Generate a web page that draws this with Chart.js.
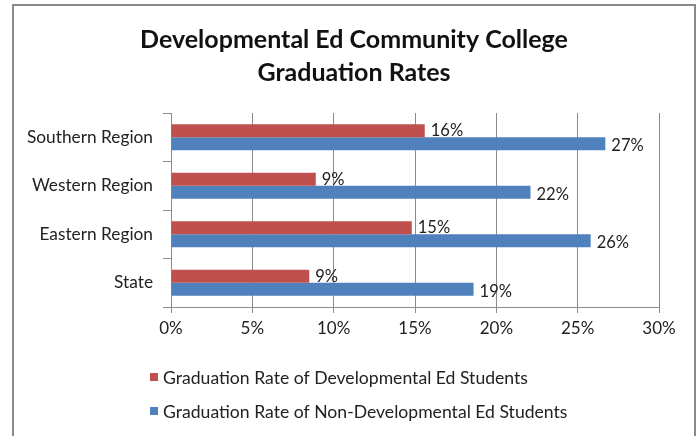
<!DOCTYPE html>
<html>
<head>
<meta charset="utf-8">
<script src="https://cdn.jsdelivr.net/npm/chart.js@4"></script>
<style>
  html, body { margin: 0; padding: 0; background: #fff; }
  #wrap { position: relative; width: 698px; height: 436px; }
  canvas { display: block; }
</style>
</head>
<body>
<div id="wrap"><canvas id="c" width="698" height="436"></canvas></div>
<script>
const titleLines = ['Developmental Ed Community College', 'Graduation Rates'];
const categories = ['Southern Region', 'Western Region', 'Eastern Region', 'State'];
const seriesNames = ['Graduation Rate of Developmental Ed Students', 'Graduation Rate of Non-Developmental Ed Students'];
const devValues = [15.6, 8.9, 14.8, 8.5];
const nonDevValues = [26.7, 22.1, 25.8, 18.6];
const xTicks = [0, 5, 10, 15, 20, 25, 30];

const FONT = 'Lato, "Open Sans", sans-serif';
const RED = '#C0504D';
const BLUE = '#4F81BD';
const GRID = '#8c8c8c';

const decor = {
  id: 'decor',
  beforeDraw(chart) {
    const ctx = chart.ctx;
    ctx.save();
    ctx.fillStyle = '#fff';
    ctx.fillRect(0, 0, chart.width, chart.height);
    ctx.strokeStyle = '#8a8a8a';
    ctx.lineWidth = 2;
    ctx.strokeRect(13, 5, 682, 440);
    ctx.restore();
  },
  afterDraw(chart) {
    const ctx = chart.ctx;
    ctx.save();
    // title
    ctx.fillStyle = '#111';
    ctx.font = 'bold 25px ' + FONT;
    ctx.textAlign = 'center';
    ctx.textBaseline = 'middle';
    ctx.fillText(titleLines[0], 354, 40);
    ctx.fillText(titleLines[1], 354, 73);
    // legend
    ctx.font = '17.6px ' + FONT;
    ctx.textAlign = 'left';
    const ys = [377, 411];
    chart.data.datasets.forEach((ds, i) => {
      ctx.fillStyle = ds.backgroundColor;
      ctx.fillRect(150, ys[i] - 4, 8, 8);
      ctx.fillStyle = '#222';
      ctx.fillText(ds.label, 163, ys[i] + 1);
    });
    ctx.restore();
  },
  afterDatasetsDraw(chart) {
    const ctx = chart.ctx;
    ctx.save();
    ctx.font = '16.5px ' + FONT;
    ctx.fillStyle = '#222';
    ctx.textAlign = 'left';
    ctx.textBaseline = 'middle';
    chart.data.datasets.forEach((ds, di) => {
      const meta = chart.getDatasetMeta(di);
      meta.data.forEach((bar, i) => {
        ctx.fillText(Math.round(ds.data[i]) + '%', bar.x + 6, bar.y + (di === 0 ? 0 : 2));
      });
    });
    ctx.restore();
  }
};

new Chart(document.getElementById('c'), {
  type: 'bar',
  data: {
    labels: categories,
    datasets: [
      { label: seriesNames[0], data: devValues, backgroundColor: RED },
      { label: seriesNames[1], data: nonDevValues, backgroundColor: BLUE }
    ]
  },
  options: {
    indexAxis: 'y',
    responsive: false,
    animation: false,
    devicePixelRatio: 1,
    categoryPercentage: 0.54,
    barPercentage: 1.0,
    layout: { padding: { left: 0, top: 113, right: 39, bottom: 89 } },
    plugins: {
      legend: { display: false },
      title: { display: false },
      tooltip: { enabled: false }
    },
    scales: {
      x: {
        min: 0, max: 30,
        afterBuildTicks(scale) { scale.ticks = xTicks.map(v => ({ value: v })); },
        afterFit(scale) { scale.height = 40; },
        ticks: {
          callback: v => v + '%',
          font: { family: FONT, size: 17 },
          color: '#222',
          padding: 5,
          maxRotation: 0
        },
        grid: { color: GRID, tickLength: 6, lineWidth: 1 },
        border: { color: GRID }
      },
      y: {
        afterFit(scale) { scale.width = 171; },
        ticks: {
          font: { family: FONT, size: 17.3 },
          color: '#222',
          padding: 10
        },
        grid: { offset: true, drawOnChartArea: false, color: GRID, tickLength: 8 },
        border: { color: GRID }
      }
    }
  },
  plugins: [decor]
});
</script>
</body>
</html>
